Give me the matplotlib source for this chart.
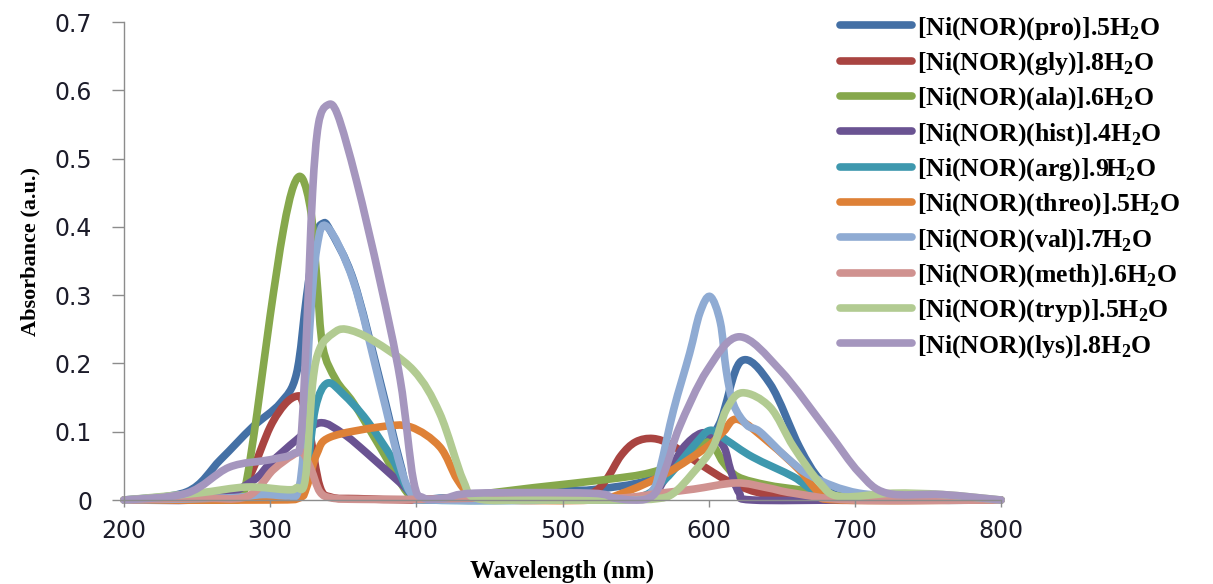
import numpy as np
import matplotlib
matplotlib.use("Agg")
import matplotlib.pyplot as plt
from matplotlib.path import Path
from matplotlib.patches import PathPatch
from matplotlib.lines import Line2D

plt.rcParams['mathtext.fontset'] = 'custom'
plt.rcParams['mathtext.rm'] = 'Liberation Serif:bold'

# UV-Vis spectra of the Ni(II) norfloxacin amino-acid complexes
pro_x = [200, 243, 266, 288, 307, 318, 325, 331, 336, 341, 357, 375, 389, 397, 420, 470, 500, 520, 560, 590, 607, 622, 642, 662, 676, 692, 750, 800]
pro_y = [0, 0.012, 0.059, 0.107, 0.142, 0.185, 0.30, 0.385, 0.405, 0.395, 0.322, 0.176, 0.054, 0.005, 0.003, 0.008, 0.015, 0.015, 0.03, 0.07, 0.11, 0.203, 0.17, 0.078, 0.03, 0.005, 0, 0]

gly_x = [200, 260, 280, 288, 300, 310, 318, 322, 327, 334, 342, 360, 400, 450, 500, 520, 530, 540, 550, 562, 575, 596, 616, 640, 680, 800]
gly_y = [0, 0.003, 0.015, 0.044, 0.107, 0.14, 0.152, 0.145, 0.10, 0.02, 0.004, 0.002, 0, 0, 0.003, 0.01, 0.03, 0.065, 0.085, 0.09, 0.08, 0.05, 0.025, 0.008, 0, 0]

ala_x = [200, 250, 272, 280, 284, 291, 300, 309, 316, 322, 328, 332, 336, 345, 357, 375, 394, 405, 430, 480, 530, 560, 585, 600, 610, 620, 640, 662, 695, 800]
ala_y = [0, 0, 0, 0.003, 0.03, 0.127, 0.27, 0.395, 0.46, 0.471, 0.42, 0.322, 0.224, 0.176, 0.142, 0.078, 0.01, 0, 0.005, 0.018, 0.03, 0.04, 0.06, 0.085, 0.055, 0.034, 0.022, 0.015, 0.005, 0]

hist_x = [200, 260, 288, 300, 318, 334, 350, 366, 389, 400, 420, 500, 555, 570, 582, 595, 605, 611, 615, 621, 630, 700, 800]
hist_y = [0, 0.002, 0.028, 0.054, 0.088, 0.113, 0.097, 0.069, 0.025, 0.005, 0, 0, 0.003, 0.03, 0.075, 0.098, 0.09, 0.075, 0.044, 0.01, 0, 0, 0]

arg_x = [200, 280, 310, 320, 325, 331, 339, 350, 366, 384, 396, 410, 500, 550, 570, 590, 601, 612, 630, 658, 671, 690, 800]
arg_y = [0, 0.002, 0.004, 0.006, 0.04, 0.135, 0.171, 0.155, 0.117, 0.059, 0.01, 0, 0, 0.003, 0.03, 0.08, 0.102, 0.088, 0.063, 0.034, 0.015, 0.003, 0]

threo_x = [200, 300, 320, 325, 332, 341, 375, 396, 416, 428, 439, 460, 520, 541, 571, 599, 610, 620, 642, 662, 676, 690, 800]
threo_y = [0, 0, 0.003, 0.019, 0.068, 0.092, 0.107, 0.107, 0.078, 0.03, 0.005, 0, 0, 0.01, 0.039, 0.078, 0.10, 0.118, 0.083, 0.044, 0.01, 0, 0]

val_x = [200, 270, 295, 312, 319, 323, 327, 332, 339, 357, 375, 389, 398, 410, 500, 550, 562, 567, 576, 587, 594, 601, 608, 612, 617, 626, 635, 653, 671, 703, 750, 800]
val_y = [0, 0.003, 0.008, 0.006, 0.012, 0.08, 0.25, 0.37, 0.40, 0.32, 0.17, 0.05, 0.005, 0, 0, 0.002, 0.015, 0.048, 0.132, 0.215, 0.274, 0.298, 0.26, 0.19, 0.14, 0.11, 0.10, 0.063, 0.034, 0.01, 0.005, 0]

meth_x = [200, 250, 284, 302, 315, 322, 328, 334, 342, 360, 400, 450, 500, 540, 567, 590, 619, 640, 658, 699, 800]
meth_y = [0, 0.003, 0.005, 0.044, 0.065, 0.07, 0.045, 0.012, 0.003, 0.001, 0.001, 0.003, 0.003, 0.003, 0.01, 0.016, 0.025, 0.018, 0.01, 0, 0]

tryp_x = [200, 250, 284, 312, 318, 324, 329, 334, 343, 352, 370, 398, 416, 432, 442, 480, 540, 565, 576, 589, 603, 612, 623, 642, 658, 676, 690, 726, 760, 800]
tryp_y = [0, 0.01, 0.019, 0.015, 0.018, 0.03, 0.17, 0.222, 0.244, 0.25, 0.234, 0.19, 0.127, 0.029, 0.002, 0, 0, 0.002, 0.01, 0.039, 0.078, 0.132, 0.157, 0.136, 0.078, 0.025, 0.005, 0.01, 0.008, 0]

lys_x = [200, 243, 272, 300, 316, 321, 325, 329, 333, 339, 346, 359, 375, 389, 398, 405, 420, 440, 519, 535, 548, 558, 565, 572, 580, 599, 621, 649, 681, 703, 722, 760, 800]
lys_y = [0, 0.01, 0.048, 0.059, 0.068, 0.09, 0.25, 0.45, 0.55, 0.578, 0.565, 0.468, 0.322, 0.176, 0.029, 0.003, 0.003, 0.01, 0.01, 0.003, 0.0, 0.002, 0.015, 0.055, 0.107, 0.19, 0.239, 0.19, 0.102, 0.04, 0.01, 0.008, 0]

series = [
    (r"[Ni(NOR)(pro)].5H$_2$O", pro_x, pro_y, "#4470A5"),
    (r"[Ni(NOR)(gly)].8H$_2$O", gly_x, gly_y, "#A94441"),
    (r"[Ni(NOR)(ala)].6H$_2$O", ala_x, ala_y, "#86A84C"),
    (r"[Ni(NOR)(hist)].4H$_2$O", hist_x, hist_y, "#6A5392"),
    (r"[Ni(NOR)(arg)].9H$_2$O", arg_x, arg_y, "#3E98AE"),
    (r"[Ni(NOR)(threo)].5H$_2$O", threo_x, threo_y, "#DE8137"),
    (r"[Ni(NOR)(val)].7H$_2$O", val_x, val_y, "#8FABD3"),
    (r"[Ni(NOR)(meth)].6H$_2$O", meth_x, meth_y, "#D09290"),
    (r"[Ni(NOR)(tryp)].5H$_2$O", tryp_x, tryp_y, "#B2CB92"),
    (r"[Ni(NOR)(lys)].8H$_2$O", lys_x, lys_y, "#A596BE"),
]

LW = 5.5


def smooth_path(x, y):
    # cubic bezier through the points, like a spreadsheet "smoothed line"
    pts = np.column_stack([x, y]).astype(float)
    n = len(pts)
    verts = [pts[0]]
    codes = [Path.MOVETO]
    for i in range(n - 1):
        p0 = pts[i - 1] if i > 0 else pts[i]
        p1 = pts[i]
        p2 = pts[i + 1]
        p3 = pts[i + 2] if i + 2 < n else pts[i + 1]
        verts += [p1 + (p2 - p0) / 6.0, p2 - (p3 - p1) / 6.0, p2]
        codes += [Path.CURVE4] * 3
    return Path(verts, codes)


fig = plt.figure(figsize=(12.13, 5.84), dpi=100)
ax = fig.add_axes([124 / 1213, 84 / 584, 877 / 1213, 478 / 584])

handles = []
for label, x, y, color in series:
    patch = PathPatch(smooth_path(x, y), fill=False, edgecolor=color, lw=LW,
                      capstyle='round', joinstyle='round', clip_on=False)
    ax.add_patch(patch)
    handles.append(Line2D([], [], color=color, lw=LW, solid_capstyle='round', label=label))

ax.set_xlim(200, 800)
ax.set_ylim(0, 0.7)
ax.set_xticks(np.arange(200, 801, 100))
ax.set_yticks(np.arange(0, 0.71, 0.1))
ax.set_yticklabels(['0', '0.1', '0.2', '0.3', '0.4', '0.5', '0.6', '0.7'])

for s in ['top', 'right']:
    ax.spines[s].set_visible(False)
for s in ['left', 'bottom']:
    ax.spines[s].set_color('#8c8c8c')
    ax.spines[s].set_linewidth(1.0)

ax.tick_params(axis='y', direction='out', length=9, width=1, color='#8c8c8c',
               labelsize=17, labelcolor='#1c1c2a', pad=14)
ax.tick_params(axis='x', direction='out', length=5, width=1, color='#8c8c8c',
               labelsize=17, labelcolor='#1c1c2a', pad=9)

ax.set_xlabel("Wavelength (nm)", family='Liberation Serif', fontweight='bold', fontsize=18)
ax.xaxis.set_label_coords(0.5, -0.125)
ax.set_ylabel("Absorbance (a.u.)", family='Liberation Serif', fontweight='bold', fontsize=16)
ax.yaxis.set_label_coords(-0.095, 0.52)

fig.legend(handles=handles, loc='upper left', bbox_to_anchor=(840 / 1213, 1 - 15 / 584),
           frameon=False, borderpad=0, borderaxespad=0, handlelength=2.8,
           handletextpad=0.2, labelspacing=0.33,
           prop={'family': 'Liberation Serif', 'weight': 'bold', 'size': 18.5})

fig.savefig("out.png", dpi=100)
